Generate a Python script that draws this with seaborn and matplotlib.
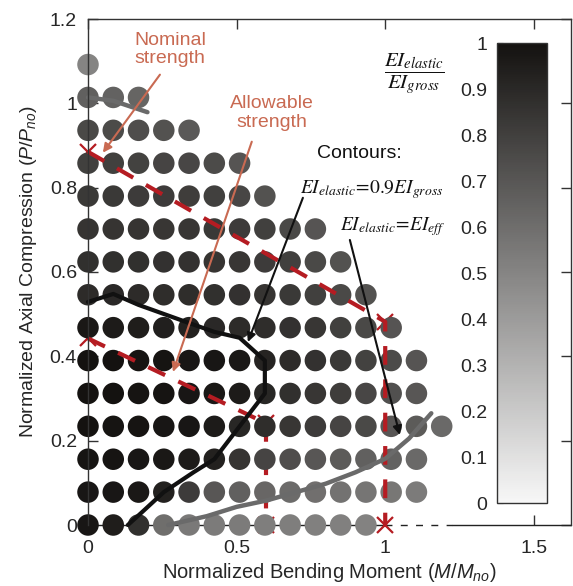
import matplotlib
matplotlib.use("Agg")
import matplotlib.pyplot as plt
import numpy as np
import pandas as pd
import seaborn as sns
from matplotlib.colors import LinearSegmentedColormap, Normalize
from matplotlib.cm import ScalarMappable
from matplotlib.ticker import FuncFormatter

# ---- analysis grid -------------------------------------------------------
moment_levels = [0.0, 0.085, 0.17, 0.255, 0.34, 0.425, 0.51, 0.595,
                 0.68, 0.765, 0.85, 0.935, 1.02, 1.105, 1.19]
axial_levels = [0.0, 0.078, 0.156, 0.234, 0.312, 0.39, 0.468, 0.546,
                0.624, 0.702, 0.78, 0.858, 0.936, 1.014, 1.092]

# EI_elastic / EI_gross for each load level (row = axial level, column = moment level)
stiffness_ratio = [
    [0.98, 0.95, 0.87, 0.60, 0.55, 0.54, 0.54, 0.53, 0.53, 0.52, 0.52, 0.51],
    [0.98, 0.98, 0.97, 0.93, 0.82, 0.70, 0.66, 0.63, 0.61, 0.59, 0.58, 0.57, 0.56, 0.54],
    [0.99, 0.99, 0.98, 0.97, 0.96, 0.93, 0.85, 0.78, 0.74, 0.70, 0.68, 0.66, 0.65, 0.62],
    [1.00, 0.99, 0.99, 0.98, 0.98, 0.96, 0.91, 0.88, 0.84, 0.82, 0.78, 0.76, 0.70, 0.68, 0.62],
    [1.00, 1.00, 0.99, 0.99, 0.98, 0.97, 0.96, 0.91, 0.87, 0.84, 0.81, 0.77, 0.73, 0.70],
    [1.00, 1.00, 0.99, 0.99, 0.98, 0.98, 0.97, 0.92, 0.89, 0.86, 0.83, 0.79, 0.75, 0.71],
    [0.97, 0.96, 0.95, 0.94, 0.93, 0.90, 0.89, 0.88, 0.86, 0.84, 0.80, 0.76, 0.71],
    [0.89, 0.90, 0.89, 0.88, 0.88, 0.87, 0.86, 0.85, 0.83, 0.80, 0.76, 0.72],
    [0.87, 0.87, 0.87, 0.86, 0.86, 0.85, 0.84, 0.82, 0.80, 0.76, 0.72],
    [0.85, 0.85, 0.85, 0.84, 0.84, 0.83, 0.82, 0.80, 0.76, 0.71],
    [0.83, 0.83, 0.82, 0.82, 0.81, 0.80, 0.77, 0.72],
    [0.80, 0.80, 0.79, 0.78, 0.77, 0.75, 0.71],
    [0.76, 0.75, 0.74, 0.72, 0.69],
    [0.66, 0.65, 0.64],
    [0.50],
]

# ---- strength envelopes ----------------------------------------------------
nominal_M = [0.0, 1.0, 1.0]
nominal_P = [0.885, 0.482, 0.0]
allowable_M = [0.0, 0.6, 0.6]
allowable_P = [0.4425, 0.241, 0.0]

# ---- stiffness contours ----------------------------------------------------
gross90_M = [0.0, 0.085, 0.17, 0.34, 0.425, 0.51, 0.595, 0.595, 0.51,
             0.425, 0.355, 0.255, 0.178, 0.134]
gross90_P = [0.529, 0.548, 0.522, 0.479, 0.458, 0.444, 0.39, 0.312, 0.234,
             0.156, 0.125, 0.078, 0.028, 0.0]
eff_M = [0.27, 0.4, 0.5, 0.6, 0.8, 0.9, 1.0, 1.08, 1.155]
eff_P = [0.0, 0.021, 0.043, 0.058, 0.098, 0.125, 0.157, 0.205, 0.265]
eff_top_M = [0.0, 0.085, 0.2]
eff_top_P = [1.014, 1.006, 0.979]

records = []
for p, row in zip(axial_levels, stiffness_ratio):
    for m, r in zip(moment_levels, row):
        records.append({"M": m, "P": p, "ratio": r})
df = pd.DataFrame(records)

# ---- style ----------------------------------------------------------------
sns.set_style("ticks")
plt.rcParams["font.family"] = ["Liberation Sans", "DejaVu Sans"]
plt.rcParams["mathtext.fontset"] = "custom"
plt.rcParams["mathtext.rm"] = "Liberation Sans"
plt.rcParams["mathtext.it"] = "Liberation Sans:italic"
txt = "#262626"

cmap = LinearSegmentedColormap.from_list("ei_gray", ["#f7f7f7", "#141210"])
norm = Normalize(0, 1)

fig = plt.figure(figsize=(5.73, 5.86), dpi=100)
ax = fig.add_axes([88 / 573, 61 / 586, 483 / 573, 506 / 586])

sns.scatterplot(data=df, x="M", y="P", hue="ratio", palette=cmap,
                hue_norm=norm, s=240, linewidth=0, legend=False, ax=ax,
                clip_on=False, zorder=2)

ax.set_xlim(0, 1.625)
ax.set_ylim(0, 1.2)

# envelopes
red = "#b51c22"
dash = dict(color=red, lw=3, dashes=(4.5, 3.5), clip_on=False)
ax.plot(nominal_M, nominal_P, zorder=3, **dash)
ax.plot(allowable_M[:2], allowable_P[:2], zorder=3, **dash)
ax.plot(allowable_M[1:], allowable_P[1:], zorder=1.5, **dash)
for Ms, Ps in ((nominal_M, nominal_P), (allowable_M, allowable_P)):
    ax.plot(Ms, Ps, ls="none", marker="x", ms=11, mew=1.6, color=red,
            zorder=1.5, clip_on=False)

# contours
ax.plot(gross90_M, gross90_P, color="#111111", lw=3, zorder=4,
        solid_joinstyle="round", clip_on=False)
ax.plot(eff_M, eff_P, color="#6a6a6a", lw=3.2, zorder=4, clip_on=False)
ax.plot(eff_top_M, eff_top_P, color="#6a6a6a", lw=3.2, zorder=4, clip_on=False)

# bottom axis line
ax.spines["bottom"].set_visible(False)
ax.plot([0, 1.0], [0, 0], color="#222222", lw=1, zorder=1, clip_on=False)
ax.plot([1.0, 1.224], [0, 0], color="#222222", lw=1, dashes=(5, 6),
        zorder=1, clip_on=False)
ax.plot([1.224, 1.625], [0, 0], color="#222222", lw=1, zorder=1, clip_on=False)

for s in ("left", "top", "right"):
    ax.spines[s].set_color("#333333")
    ax.spines[s].set_linewidth(1)
    ax.spines[s].set_zorder(5)

fmt = FuncFormatter(lambda v, _: f"{v:g}")
ax.set_xticks([0, 0.5, 1, 1.5])
ax.set_yticks([0, 0.2, 0.4, 0.6, 0.8, 1.0, 1.2])
ax.xaxis.set_major_formatter(fmt)
ax.yaxis.set_major_formatter(fmt)
ax.tick_params(direction="in", length=7, width=1, color="#333333",
               top=True, right=True, labelsize=14, labelcolor=txt)
ax.tick_params(axis="x", pad=11)
ax.tick_params(axis="y", pad=8)

ax.set_xlabel(r"Normalized Bending Moment ($M/M_{no}$)", fontsize=14.5,
              color=txt, labelpad=3)
ax.set_ylabel(r"Normalized Axial Compression ($P/P_{no}$)", fontsize=14,
              color=txt, labelpad=8)

# annotations
anno = "#c96a52"
ax.text(0.276, 1.127, "Nominal\nstrength", color=anno, fontsize=14,
        ha="center", va="center", linespacing=1.1)
ax.annotate("", xy=(0.05, 0.883), xytext=(0.242, 1.068),
            arrowprops=dict(arrowstyle="-|>", color=anno, lw=1.5,
                            mutation_scale=13, shrinkA=0, shrinkB=0), zorder=6)
ax.text(0.618, 0.977, "Allowable\nstrength", color=anno, fontsize=14,
        ha="center", va="center", linespacing=1.1)
ax.annotate("", xy=(0.286, 0.363), xytext=(0.551, 0.909),
            arrowprops=dict(arrowstyle="-|>", color=anno, lw=1.5,
                            mutation_scale=13, shrinkA=0, shrinkB=0), zorder=6)

ax.text(0.914, 0.880, "Contours:", color="#111111", fontsize=14,
        ha="center", va="center")
ax.text(0.713, 0.795, r"$EI_{elastic}\!=\!0.9EI_{gross}$", color="#111111",
        fontsize=14, ha="left", va="center", math_fontfamily="stix")
ax.text(0.847, 0.707, r"$EI_{elastic}\!=\!EI_{eff}$", color="#111111",
        fontsize=14, ha="left", va="center", math_fontfamily="stix")
ax.annotate("", xy=(0.538, 0.434), xytext=(0.723, 0.776),
            arrowprops=dict(arrowstyle="-|>", color="#111111", lw=1.5,
                            mutation_scale=13, shrinkA=0, shrinkB=0), zorder=6)
ax.annotate("", xy=(1.049, 0.2135), xytext=(0.881, 0.676),
            arrowprops=dict(arrowstyle="-|>", color="#111111", lw=1.5,
                            mutation_scale=13, shrinkA=0, shrinkB=0), zorder=6)

ax.text(1.099, 1.068, r"$\dfrac{EI_{elastic}}{EI_{gross}}$", color="#111111",
        fontsize=15, ha="center", va="center", math_fontfamily="stix")

# colour scale
cax = fig.add_axes([497 / 573, 83 / 586, 50 / 573, 460 / 586])
cb = fig.colorbar(ScalarMappable(norm=norm, cmap=cmap), cax=cax)
cb.set_ticks([0, 0.1, 0.2, 0.3, 0.4, 0.5, 0.6, 0.7, 0.8, 0.9, 1.0])
cb.ax.yaxis.set_major_formatter(fmt)
cax.yaxis.set_ticks_position("left")
cax.yaxis.set_label_position("left")
cax.tick_params(direction="in", length=4, width=0.8, color="#333333",
                labelsize=14, labelcolor=txt, pad=7)
cb.outline.set_edgecolor("#333333")
cb.outline.set_linewidth(1)

fig.savefig("out.png", dpi=100)
